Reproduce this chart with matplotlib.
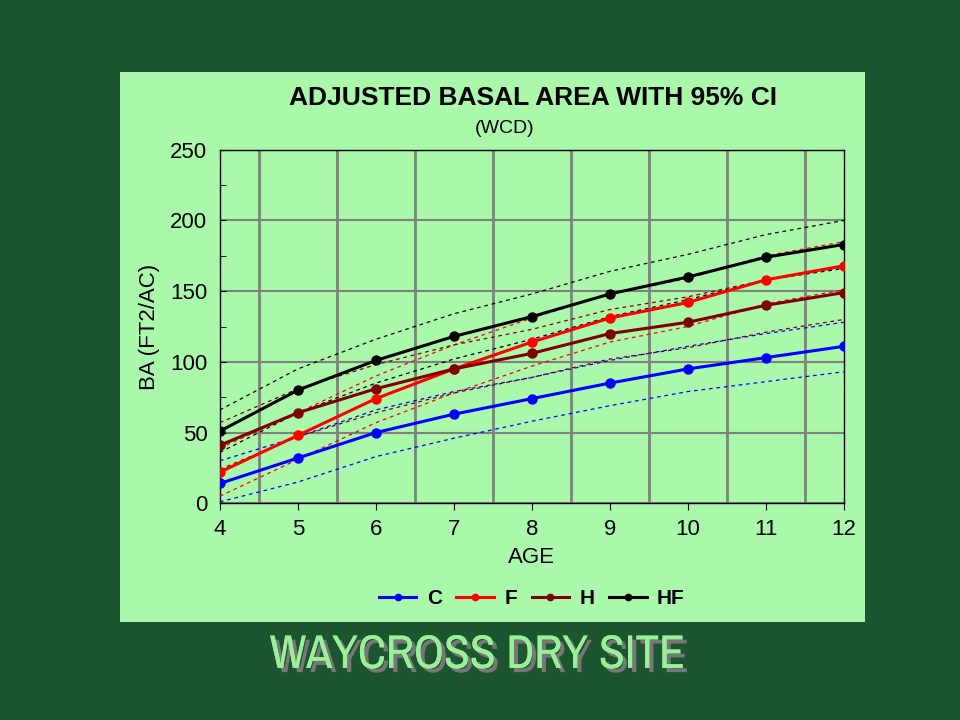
import numpy as np
import matplotlib
matplotlib.use("Agg")
from matplotlib import pyplot as plt
from matplotlib import patheffects as pe
from matplotlib import font_manager
from matplotlib.patches import Rectangle

# data
age = [4, 5, 6, 7, 8, 9, 10, 11, 12]

C = [14, 32, 50, 63, 74, 85, 95, 103, 111]
F = [22, 48, 74, 95, 114, 131, 142, 158, 168]
H = [41, 64, 81, 95, 106, 120, 128, 140, 149]
HF = [51, 80, 101, 118, 132, 148, 160, 174, 183]

# 95% CI bounds
C_lo = [1, 15, 33, 46, 58, 69, 79, 86, 93]
C_hi = [30, 47, 66, 79, 89, 101, 111, 120, 128]
F_lo = [5, 31, 57, 78, 97, 114, 125, 141, 151]
F_hi = [39, 64, 90, 112, 131, 148, 159, 175, 185]
H_lo = [24, 47, 64, 78, 89, 102, 110, 121, 130]
H_hi = [57, 81, 98, 112, 123, 137, 146, 158, 167]
HF_lo = [36, 64, 85, 102, 116, 132, 144, 158, 166]
HF_hi = [66, 95, 116, 134, 148, 164, 176, 190, 200]

names = ["C", "F", "H", "HF"]
colors = ["#0000ff", "#ff0000", "#800000", "#000000"]

plt.rcParams['font.family'] = ['Liberation Sans', 'DejaVu Sans']

# look for a narrow face for the slide title, if one is installed
narrow = [f.name for f in font_manager.fontManager.ttflist
          if "Narrow" in f.name or "Condensed" in f.name]
title_fam = [narrow[0]] if narrow else []
title_size = 34 if narrow else 29

fig = plt.figure(figsize=(9.6, 7.2), dpi=100)
fig.patch.set_facecolor("#1d5530")

# light green panel behind the chart
panel = Rectangle((0.125, 0.136), 0.776, 0.764, transform=fig.transFigure,
                  facecolor="#aaf8aa", edgecolor="none", zorder=-1)
fig.patches.append(panel)

ax = fig.add_axes([0.229, 0.301, 0.650, 0.491])
ax.set_facecolor("#aaf8aa")

series = [(C, C_lo, C_hi), (F, F_lo, F_hi), (H, H_lo, H_hi), (HF, HF_lo, HF_hi)]
for (mean, lo, hi), name, col in zip(series, names, colors):
  ax.plot(age, lo, color=col, lw=0.9, ls=(0, (3, 3)), zorder=3)
  ax.plot(age, hi, color=col, lw=0.9, ls=(0, (3, 3)), zorder=3)
for (mean, lo, hi), name, col in zip(series, names, colors):
  ax.plot(age, mean, color=col, lw=2.2, marker="o", markersize=6.5, label=name, zorder=4)

ax.set_xlim(4, 12)
ax.set_ylim(0, 250)
ax.set_xticks(age)
ax.set_xticks(np.arange(4.5, 12, 1), minor=True)
ax.set_yticks(np.arange(0, 251, 50))
ax.set_yticks(np.arange(25, 250, 50), minor=True)
ax.grid(which="minor", axis="x", color="#808080", lw=2)
ax.grid(which="major", axis="y", color="#808080", lw=1.5)
ax.set_axisbelow(True)
ax.tick_params(axis="x", which="major", direction="out", length=5, labelsize=16, pad=6)
ax.tick_params(axis="x", which="minor", length=0)
ax.tick_params(axis="y", which="both", direction="in", length=4, labelsize=16, pad=9)
for s in ax.spines.values():
  s.set_color("black")
  s.set_linewidth(1)

ax.set_xlabel("AGE", fontsize=16, labelpad=5)
ax.set_ylabel("BA (FT2/AC)", fontsize=16, labelpad=7)

fig.text(0.555, 0.864, "ADJUSTED BASAL AREA WITH 95% CI", ha="center", va="center",
         fontsize=19, fontweight="bold")
fig.text(0.526, 0.821, "(WCD)", ha="center", va="center", fontsize=14)

leg = ax.legend(loc="upper center", bbox_to_anchor=(0.5, -0.19), ncol=4, frameon=False,
                prop={"size": 15, "weight": "bold"}, handlelength=1.8, columnspacing=0.7,
                handletextpad=0.5, markerscale=0.7)

fig.text(0.497, 0.091, "WAYCROSS DRY SITE", ha="center", va="center",
         fontsize=title_size, fontweight="bold", color="#99f099",
         family=title_fam + ["Liberation Sans", "DejaVu Sans"],
         path_effects=[pe.withSimplePatchShadow(offset=(3, -3), shadow_rgbFace="#777777", alpha=1),
                       pe.Normal()])

fig.savefig("out.png", dpi=100, facecolor=fig.get_facecolor())
